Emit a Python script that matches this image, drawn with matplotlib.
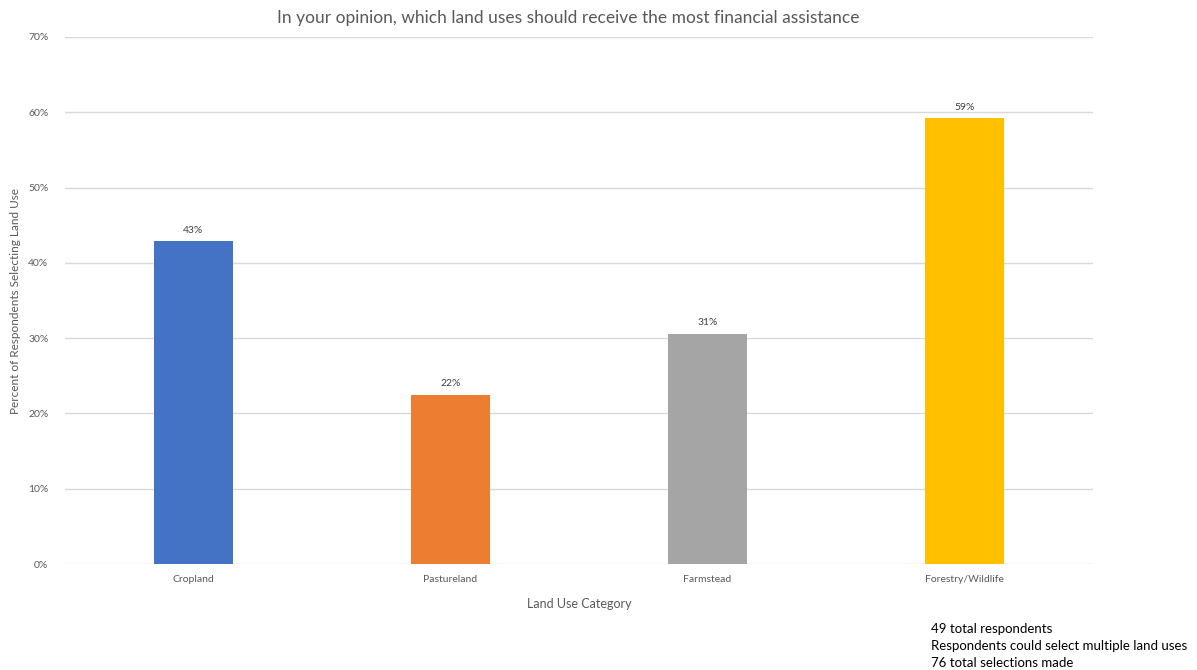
import matplotlib.pyplot as plt
from matplotlib.ticker import PercentFormatter

plt.rcParams['font.family'] = ['Lato', 'DejaVu Sans']

categories = ['Cropland', 'Pastureland', 'Farmstead', 'Forestry/Wildlife']
selections = [21, 11, 15, 29]
respondents = 49
pct = [s / respondents * 100 for s in selections]
colors = ['#4472C4', '#ED7D31', '#A5A5A5', '#FFC000']
notes = ['49 total respondents', 'Respondents could select multiple land uses', '76 total selections made']

fig = plt.figure(figsize=(11.97, 6.70), dpi=100)
ax = fig.add_axes([65 / 1197, 106 / 670, (1093 - 65) / 1197, (564 - 37) / 670])

x = range(len(categories))
bars = ax.bar(x, pct, width=0.31, color=colors, zorder=3)
for b, v in zip(bars, pct):
    ax.text(b.get_x() + b.get_width() / 2, v + 0.9, f'{v:.0f}%', ha='center', va='bottom',
            fontsize=7.5, color='#404040')

ax.set_xlim(-0.5, 3.5)
ax.set_ylim(0, 70)
ax.set_yticks(range(0, 71, 10))
ax.yaxis.set_major_formatter(PercentFormatter(decimals=0))
ax.set_xticks(list(x))
ax.set_xticklabels(categories)
ax.tick_params(axis='both', length=0, labelsize=7.5, labelcolor='#595959')
ax.tick_params(axis='x', pad=8)
ax.tick_params(axis='y', pad=12)
ax.grid(axis='y', color='#D9D9D9', linewidth=1, zorder=0)
for s in ax.spines.values():
    s.set_visible(False)

ax.set_xlabel('Land Use Category', fontsize=9, color='#595959', labelpad=10)
ax.set_ylabel('Percent of Respondents Selecting Land Use', fontsize=8.5, color='#595959', labelpad=5)

fig.text(568 / 1197, 1 - 18 / 670, 'In your opinion, which land uses should receive the most financial assistance',
         ha='center', va='center', fontsize=12.5, color='#595959')

for i, line in enumerate(notes):
    fig.text(931 / 1197, 1 - (629 + 17 * i) / 670, line, ha='left', va='center', fontsize=9.5, color='black')

fig.savefig('out.png', dpi=100)
